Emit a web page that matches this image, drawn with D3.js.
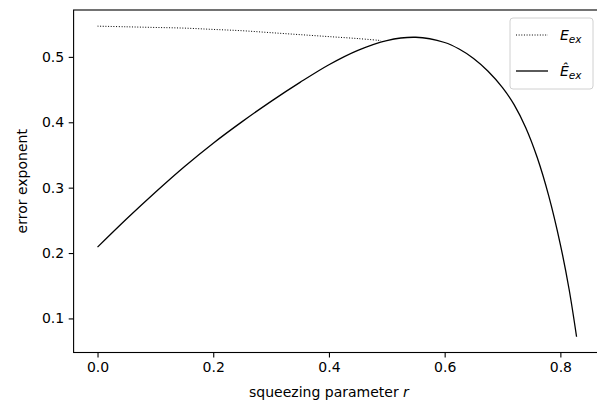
<!DOCTYPE html>
<html>
<head>
<meta charset="utf-8">
<script src="https://cdn.jsdelivr.net/npm/d3@7"></script>
<style>
  body { margin: 0; background: #fff; }
  text { font-family: "DejaVu Sans", sans-serif; fill: #000; }
</style>
</head>
<body>
<div id="content"></div>
<script>
(function(){

  // squeezing parameter r and the two error exponents
  var rHat = [0, 0.05, 0.1, 0.15, 0.2, 0.25, 0.3, 0.35, 0.4, 0.45, 0.5, 0.55, 0.6, 0.625, 0.65, 0.675, 0.7, 0.72, 0.74, 0.76, 0.78, 0.8, 0.815, 0.828];
  var eHat = [0.209, 0.252, 0.293, 0.332, 0.368, 0.401, 0.432, 0.461, 0.488, 0.510, 0.525, 0.530, 0.522, 0.512, 0.4975, 0.478, 0.453, 0.427, 0.392, 0.346, 0.287, 0.213, 0.145, 0.072];

  var rEx = [0, 0.05, 0.1, 0.15, 0.2, 0.25, 0.3, 0.35, 0.4, 0.45, 0.49];
  var eEx = [0.547, 0.546, 0.545, 0.544, 0.542, 0.540, 0.537, 0.534, 0.531, 0.528, 0.525];

  var xTicks = [0.0, 0.2, 0.4, 0.6, 0.8];
  var yTicks = [0.1, 0.2, 0.3, 0.4, 0.5];

  var width = 597, height = 405;
  var left = 73.6, right = 600, top = 10, bottom = 352.5;

  var svg = d3.select("#content").append("svg")
      .attr("width", width)
      .attr("height", height);

  var x = d3.scaleLinear().domain([-0.04135, 0.8685]).range([left, right]);
  var y = d3.scaleLinear().domain([0.0479, 0.5717]).range([bottom, top]);

  var line = d3.line()
      .x(function(d) { return x(d[0]); })
      .y(function(d) { return y(d[1]); })
      .curve(d3.curveCatmullRom.alpha(0.5));

  var hatData = rHat.map(function(r, i) { return [r, eHat[i]]; });
  var exData = rEx.map(function(r, i) { return [r, eEx[i]]; });

  // curves
  svg.append("path")
      .datum(exData)
      .attr("d", line)
      .style("fill", "none")
      .style("stroke", "#000")
      .style("stroke-width", 1)
      .style("stroke-dasharray", "1,1.65");

  svg.append("path")
      .datum(hatData)
      .attr("d", line)
      .style("fill", "none")
      .style("stroke", "#000")
      .style("stroke-width", 1.3);

  // axes
  var xAxis = svg.append("g")
      .attr("transform", "translate(0," + bottom + ")")
      .call(d3.axisBottom(x).tickValues(xTicks).tickFormat(d3.format(".1f")).tickSizeOuter(0).tickSize(4.9).tickPadding(4.5));

  var yAxis = svg.append("g")
      .attr("transform", "translate(" + left + ",0)")
      .call(d3.axisLeft(y).tickValues(yTicks).tickFormat(d3.format(".1f")).tickSizeOuter(0).tickSize(4.9).tickPadding(4.5));

  [xAxis, yAxis].forEach(function(g) {
    g.select(".domain").remove();
    g.selectAll("line").style("stroke", "#000").style("stroke-width", 1.1);
    g.selectAll("text").style("font-size", "14px").style("font-family", "DejaVu Sans").style("fill", "#000");
  });

  // spines
  svg.append("rect")
      .attr("x", left)
      .attr("y", top)
      .attr("width", right - left)
      .attr("height", bottom - top)
      .style("fill", "none")
      .style("stroke", "#000")
      .style("stroke-width", 1.1);

  // axis labels
  svg.append("text")
      .attr("x", x(0.4))
      .attr("y", 397)
      .attr("text-anchor", "middle")
      .style("font-size", "14px")
      .html("squeezing parameter <tspan font-style='italic'>r</tspan>");

  svg.append("text")
      .attr("transform", "translate(27," + ((top + bottom) / 2) + ") rotate(-90)")
      .attr("text-anchor", "middle")
      .style("font-size", "14px")
      .text("error exponent");

  // legend
  var lg = svg.append("g").attr("transform", "translate(510,18)");
  lg.append("rect")
      .attr("width", 83)
      .attr("height", 71)
      .attr("rx", 3)
      .style("fill", "#fff")
      .style("fill-opacity", 0.8)
      .style("stroke", "#d0d0d0")
      .style("stroke-width", 1);

  var items = [
    {label: "E", dash: "1,1.65", w: 1},
    {label: "\u00CA", dash: null, w: 1.3}
  ];
  items.forEach(function(it, i) {
    var yy = 17 + i * 36;
    lg.append("line")
        .attr("x1", 6).attr("x2", 38)
        .attr("y1", yy).attr("y2", yy)
        .style("stroke", "#000")
        .style("stroke-width", it.w)
        .style("stroke-dasharray", it.dash);
    var t = lg.append("text")
        .attr("x", 50)
        .attr("y", yy + 5)
        .style("font-size", "14px")
        .style("font-style", "italic");
    t.append("tspan").text(it.label);
    t.append("tspan").attr("dy", 3).style("font-size", "10.5px").text("ex");
  });

})();
</script>
</body>
</html>
